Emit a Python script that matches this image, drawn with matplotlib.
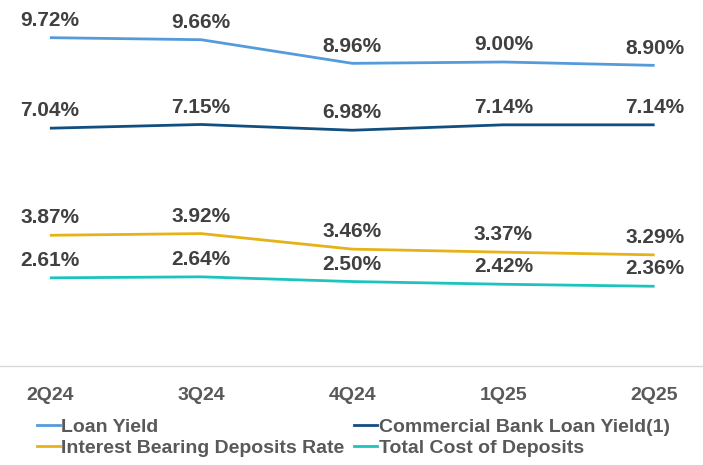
import matplotlib.pyplot as plt
from matplotlib.lines import Line2D

plt.rcParams['font.family'] = ['Liberation Sans', 'DejaVu Sans']

quarters = ['2Q24', '3Q24', '4Q24', '1Q25', '2Q25']
loan_yield = [9.72, 9.66, 8.96, 9.00, 8.90]
commercial_yield = [7.04, 7.15, 6.98, 7.14, 7.14]
ib_deposits_rate = [3.87, 3.92, 3.46, 3.37, 3.29]
total_cost_deposits = [2.61, 2.64, 2.50, 2.42, 2.36]

series = [
    ('Loan Yield', loan_yield, '#559BDC'),
    ('Commercial Bank Loan Yield(1)', commercial_yield, '#124E7E'),
    ('Interest Bearing Deposits Rate', ib_deposits_rate, '#E5B217'),
    ('Total Cost of Deposits', total_cost_deposits, '#1DC4BE'),
]

fig = plt.figure(figsize=(7.03, 4.65), dpi=100)
ax = fig.add_axes([0, 0.2129, 1, 0.77])

x = list(range(len(quarters)))
for name, vals, col in series:
    ax.plot(x, vals, color=col, lw=2.0, solid_capstyle='butt')
    for xi, v in zip(x, vals):
        ax.annotate(f'{v:.2f}%', (xi, v), xytext=(0, 8.5), textcoords='offset points',
                    ha='center', va='baseline', fontsize=15, fontweight='bold',
                    color='#404040')

ax.set_xlim(-0.33, 4.32)
ax.set_ylim(0, 10.6)
for s in ['top', 'right', 'left']:
    ax.spines[s].set_visible(False)
ax.spines['bottom'].set_color('#D9D9D9')
ax.spines['bottom'].set_linewidth(1)
ax.set_yticks([])
ax.set_xticks(x)
ax.set_xticklabels(quarters, fontsize=14, fontweight='bold', color='#595959')
ax.tick_params(axis='x', length=0, pad=15)

# legend filled row by row: column-major order for matplotlib
order = [0, 2, 1, 3]
handles = [Line2D([], [], color=series[i][2], lw=2) for i in order]
labels = [series[i][0] for i in order]
leg = fig.legend(handles, labels, ncol=2, loc='upper left', bbox_to_anchor=(0.052, 0.1),
                 frameon=False, fontsize=14, handlelength=1.18, handletextpad=0.1,
                 columnspacing=0.5, labelspacing=0.15, borderaxespad=0, borderpad=0)
for t in leg.get_texts():
    t.set_color('#595959')
    t.set_fontweight('bold')

fig.savefig('out.png', dpi=100)
